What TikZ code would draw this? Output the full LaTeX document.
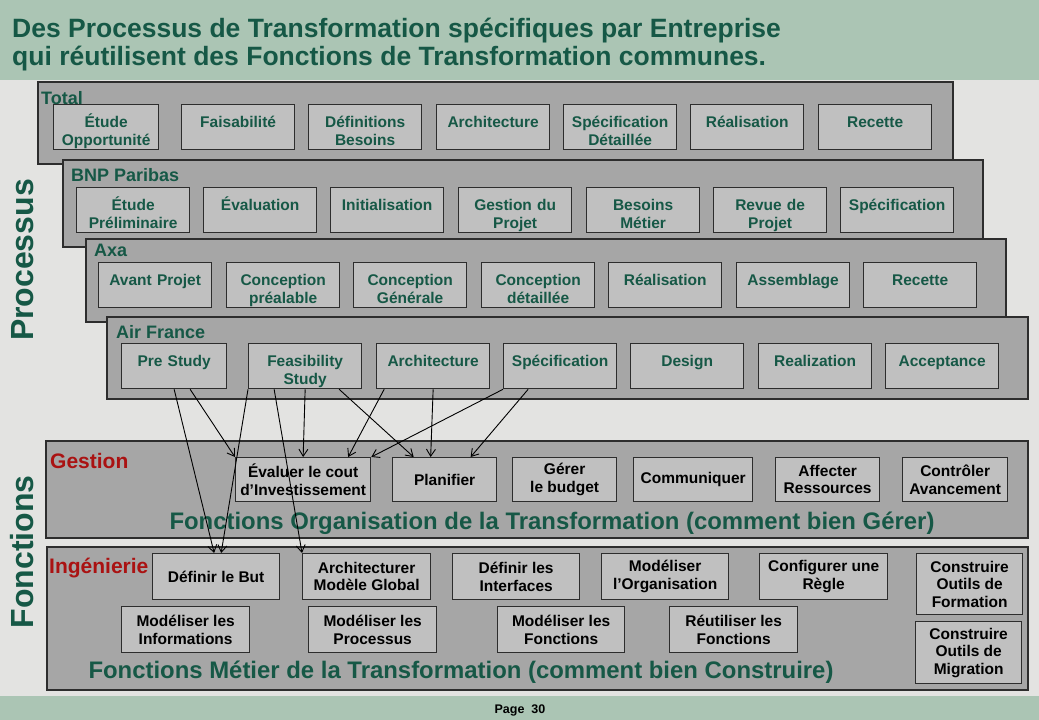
\documentclass[tikz,border=0pt]{standalone}
\usepackage{fontspec}
\setmainfont{Liberation Sans}
\usetikzlibrary{arrows.meta}

\definecolor{bggray}{RGB}{227,227,225}
\definecolor{bandgreen}{RGB}{171,197,180}
\definecolor{titlegreen}{RGB}{22,88,70}
\definecolor{bandgray}{RGB}{166,166,166}
\definecolor{boxgray}{RGB}{192,192,192}
\definecolor{edgegray}{RGB}{45,45,45}
\definecolor{labelred}{RGB}{170,18,18}

\newcommand{\boxfont}{\bfseries\fontsize{15.5}{17.5}\selectfont}

\tikzset{
  band/.style={draw=edgegray, line width=1.2pt, fill=bandgray},
  procbox/.style={draw=edgegray, line width=1.3pt, fill=boxgray, text=titlegreen,
    font=\boxfont, align=center, text width=#1, inner sep=0pt,
    text height=23pt, text depth=22pt, anchor=north west},
  procbox/.default=113pt,
  funcbox/.style={draw=edgegray, line width=1.3pt, fill=boxgray, text=black,
    font=\boxfont, align=center, minimum width=#1, minimum height=44pt,
    inner sep=0pt, anchor=north west},
  funcbox/.default=127pt,
  bandlabel/.style={anchor=base west, inner sep=0pt, text=titlegreen,
    font=\bfseries\fontsize{18}{20}\selectfont},
  redlabel/.style={anchor=base west, inner sep=0pt, text=labelred,
    font=\bfseries\fontsize{21}{23}\selectfont},
  bigtext/.style={anchor=base, inner sep=0pt, text=titlegreen,
    font=\bfseries\fontsize{23.9}{26}\selectfont},
  titletext/.style={anchor=base west, inner sep=0pt, text=titlegreen,
    font=\bfseries\fontsize{26.5}{30}\selectfont},
  sidelabel/.style={rotate=90, anchor=base, inner sep=0pt, text=titlegreen,
    font=\bfseries\fontsize{32}{34}\selectfont},
  link/.style={->, line width=0.9pt, black}
}

\begin{document}
\begin{tikzpicture}[x=1pt, y=-1pt, >={Straight Barb[length=7pt,width=9pt]}]
    \useasboundingbox (0,0) rectangle (1039,720);
    \fill[bggray] (0,0) rectangle (1039,720);
    \fill[bandgreen] (0,0) rectangle (1039,80);
    \fill[bandgreen] (0,696) rectangle (1039,720);

    \node[titletext] (title1) at (12,37) {Des Processus de Transformation spécifiques par Entreprise};
    \node[titletext] (title2) at (12,65) {qui réutilisent des Fonctions de Transformation communes.};
    \node[anchor=base, inner sep=0pt, font=\bfseries\fontsize{12.5}{14}\selectfont] (page) at (520,713) {Page\ \ 30};

    \node[sidelabel] (sideproc) at (34,260) {Processus};
    \node[sidelabel] (sidefunc) at (34,552) {Fonctions};

    % Total
    \draw[band] (38,82) rectangle (953,164);
    \node[bandlabel] (tot) at (41,104) {Total};
    \node[procbox=105pt] (tot-etude) at (53,104) {Étude\\Opportunité};
    \node[procbox] (tot-fais) at (181,104) {Faisabilité};
    \node[procbox] (tot-def) at (308,104) {Définitions\\Besoins};
    \node[procbox] (tot-archi) at (436,104) {Architecture};
    \node[procbox] (tot-spec) at (563,104) {Spécification\\Détaillée};
    \node[procbox] (tot-real) at (690,104) {Réalisation};
    \node[procbox] (tot-rec) at (818,104) {Recette};

    % BNP Paribas
    \draw[band] (63,160) rectangle (983,247);
    \node[bandlabel] (bnp) at (71,181) {BNP Paribas};
    \node[procbox] (bnp-etude) at (76,187) {Étude\\Préliminaire};
    \node[procbox] (bnp-eval) at (203,187) {Évaluation};
    \node[procbox] (bnp-init) at (330,187) {Initialisation};
    \node[procbox] (bnp-gest) at (458,187) {Gestion du\\Projet};
    \node[procbox] (bnp-bes) at (586,187) {Besoins\\Métier};
    \node[procbox] (bnp-revue) at (713,187) {Revue de\\Projet};
    \node[procbox] (bnp-spec) at (840,187) {Spécification};

    % Axa
    \draw[band] (86,239) rectangle (1006,322);
    \node[bandlabel] (axa) at (94,256) {Axa};
    \node[procbox] (axa-avant) at (98,262) {Avant Projet};
    \node[procbox] (axa-prea) at (226,262) {Conception\\préalable};
    \node[procbox] (axa-gen) at (353,262) {Conception\\Générale};
    \node[procbox] (axa-det) at (481,262) {Conception\\détaillée};
    \node[procbox] (axa-real) at (608,262) {Réalisation};
    \node[procbox] (axa-ass) at (736,262) {Assemblage};
    \node[procbox] (axa-rec) at (863,262) {Recette};

    % Air France
    \draw[band] (107,317) rectangle (1028,399);
    \node[bandlabel] (af) at (116,338) {Air France};
    \node[procbox=105pt] (af-pre) at (121,343) {Pre Study};
    \node[procbox] (af-study) at (248,343) {Feasibility\\Study};
    \node[procbox] (af-archi) at (376,343) {Architecture};
    \node[procbox] (af-spec) at (503,343) {Spécification};
    \node[procbox] (af-design) at (630,343) {Design};
    \node[procbox] (af-real) at (758,343) {Realization};
    \node[procbox] (af-acc) at (885,343) {Acceptance};

    % Gestion
    \draw[band] (46,441) rectangle (1028,538);
    \node[redlabel] (gest) at (50,468) {Gestion};
    \node[funcbox=135pt] (gest-eval) at (235,457) {Évaluer le cout\\d’Investissement};
    \node[funcbox=104pt] (gest-plan) at (392,457) {Planifier};
    \node[funcbox=104pt] (gest-budget) at (512,457) {Gérer\\le budget};
    \node[funcbox=119pt] (gest-comm) at (633,457) {Communiquer};
    \node[funcbox=104pt] (gest-res) at (775,457) {Affecter\\Ressources};
    \node[funcbox=105pt] (gest-avanc) at (902,457) {Contrôler\\Avancement};
    \node[bigtext] (gest-title) at (552,529) {Fonctions Organisation de la Transformation (comment bien Gérer)};

    % Ingenierie
    \draw[band] (47,547) rectangle (1028,690);
    \node[redlabel] (ing) at (49,573) {Ingénierie};
    \node[funcbox, minimum height=46pt] (ing-but) at (152,553) {Définir le But};
    \node[funcbox=128pt, minimum height=46pt] (ing-archi) at (302,553) {Architecturer\\Modèle Global};
    \node[funcbox, minimum height=46pt] (ing-inter) at (452,553) {Définir les\\Interfaces};
    \node[funcbox, minimum height=46pt] (ing-orga) at (601,553) {Modéliser\\l’Organisation};
    \node[funcbox=128pt, minimum height=46pt] (ing-regle) at (759,553) {Configurer une\\Règle};
    \node[funcbox=128pt, minimum height=46pt] (ing-info) at (121,606) {Modéliser les\\Informations};
    \node[funcbox=128pt, minimum height=46pt] (ing-proc) at (308,606) {Modéliser les\\Processus};
    \node[funcbox, minimum height=46pt] (ing-fonc) at (497,606) {Modéliser les\\Fonctions};
    \node[funcbox=128pt, minimum height=46pt] (ing-reut) at (669,606) {Réutiliser les\\Fonctions};
    \node[funcbox=106pt, minimum height=61pt] (ing-form) at (916,553) {Construire\\Outils de\\Formation};
    \node[funcbox=106pt, minimum height=62pt] (ing-migr) at (915,621) {Construire\\Outils de\\Migration};
    \node[bigtext] (ing-title) at (461,678) {Fonctions Métier de la Transformation (comment bien Construire)};

    % liens processus -> fonctions
    \draw[link] (af-pre.south) -- ([xshift=-2pt]ing-but.north);
    \draw[link] ([xshift=16pt]af-pre.south) -- (gest-eval.north west);
    \draw[link] (af-study.south west) -- ([xshift=5pt]ing-but.north);
    \draw[link] ([xshift=-31pt]af-study.south) -- (ing-archi.north west);
    \draw[link] (af-study.south) -- (gest-eval.north);
    \draw[link] ([xshift=34pt]af-study.south) -- ([xshift=-31pt]gest-plan.north);
    \draw[link] ([xshift=-49pt]af-archi.south) -- ([xshift=45pt]gest-eval.north);
    \draw[link] (af-archi.south) -- ([xshift=-14pt]gest-plan.north);
    \draw[link] (af-spec.south west) -- (gest-eval.north east);
    \draw[link] ([xshift=-32pt]af-spec.south) -- ([xshift=26pt]gest-plan.north);
\end{tikzpicture}
\end{document}
